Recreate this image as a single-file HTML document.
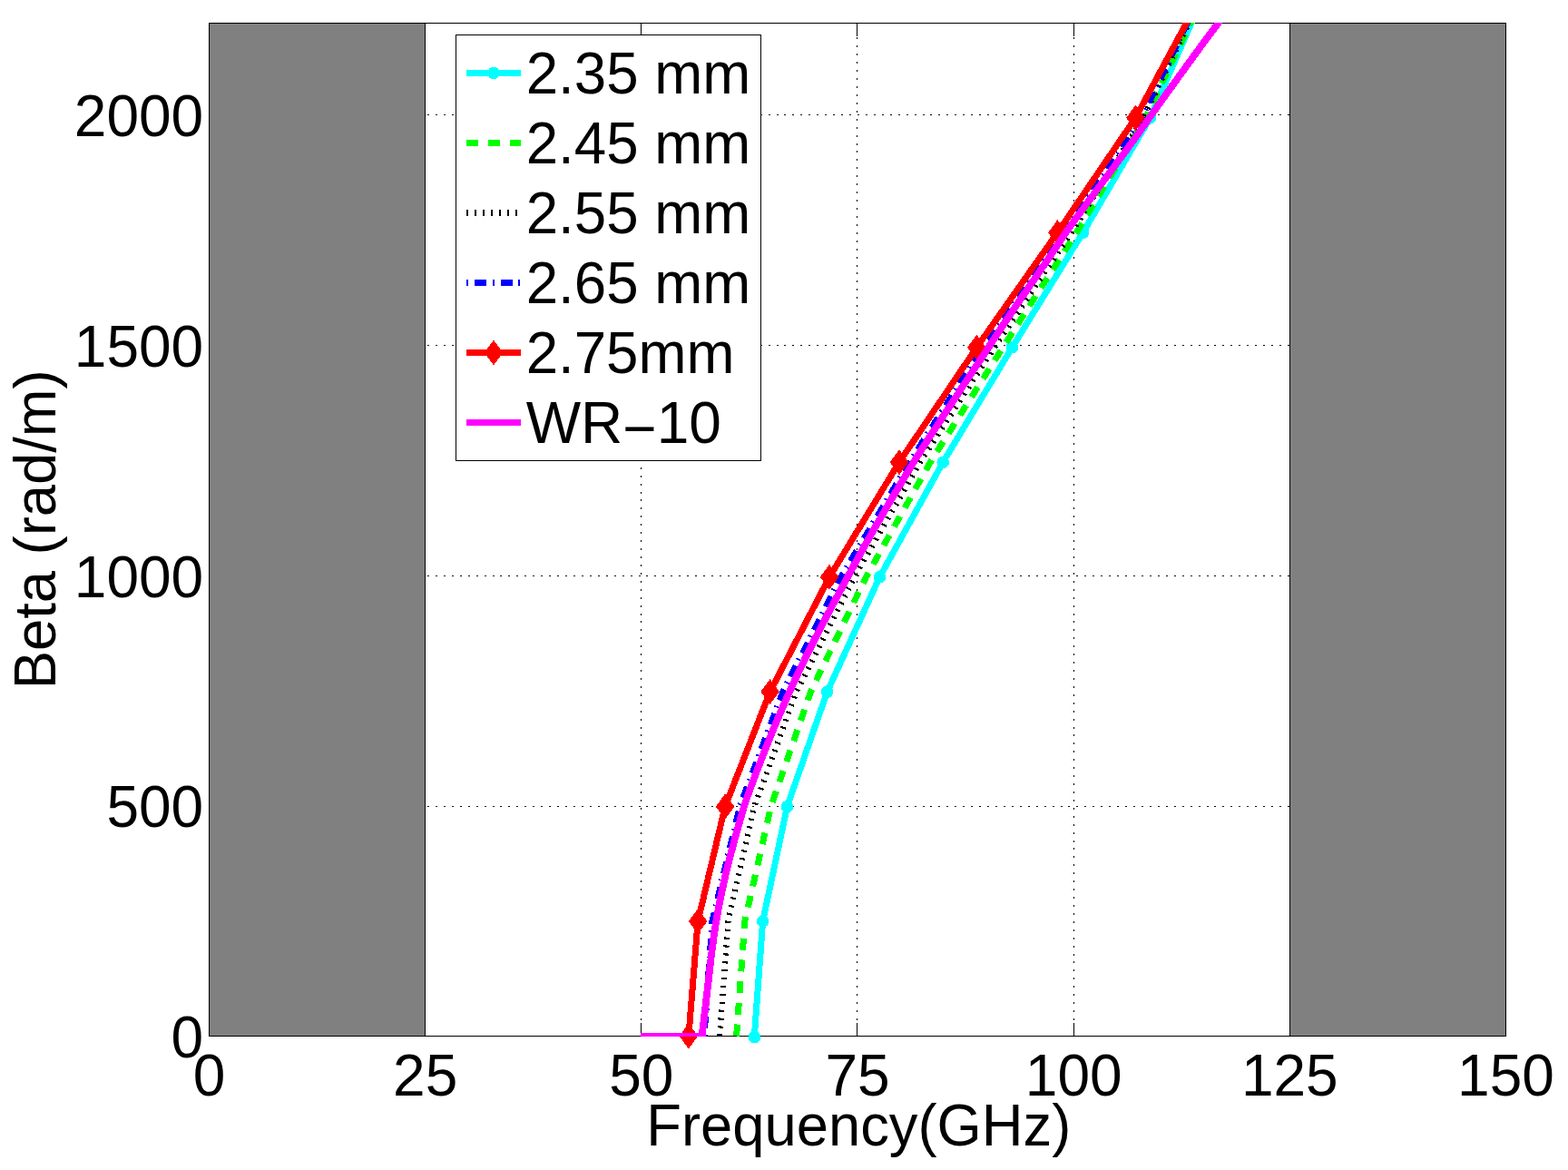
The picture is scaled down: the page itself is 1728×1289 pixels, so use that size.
<!DOCTYPE html>
<html lang="en">
<head>
<meta charset="utf-8">
<title>Beta (rad/m) vs Frequency(GHz)</title>
<style>
html,body{margin:0;padding:0;background:#fff;}
body{width:1728px;height:1289px;overflow:hidden;}
svg{display:block;}
text{font-family:"Liberation Sans",sans-serif;font-size:64px;fill:#000;}
</style>
</head>
<body>
<svg width="1728" height="1289" viewBox="0 0 1728 1289">
<rect x="0" y="0" width="1728" height="1289" fill="#fff"/>
<g shape-rendering="crispEdges">
<rect x="230.5" y="25.5" width="238.2" height="1116.0" fill="#808080" stroke="#000" stroke-width="1"/>
<rect x="1421.3" y="25.5" width="238.2" height="1116.0" fill="#808080" stroke="#000" stroke-width="1"/>
<line x1="706.5" y1="1124" x2="706.5" y2="25.5" stroke="#000" stroke-width="1" stroke-dasharray="2 6.93"/>
<line x1="944.5" y1="1124" x2="944.5" y2="25.5" stroke="#000" stroke-width="1" stroke-dasharray="2 6.93"/>
<line x1="1183.5" y1="1124" x2="1183.5" y2="25.5" stroke="#000" stroke-width="1" stroke-dasharray="2 6.93"/>
<line x1="471" y1="888.5" x2="1421.3" y2="888.5" stroke="#000" stroke-width="1" stroke-dasharray="2 6.943"/>
<line x1="471" y1="634.5" x2="1421.3" y2="634.5" stroke="#000" stroke-width="1" stroke-dasharray="2 6.943"/>
<line x1="471" y1="380.5" x2="1421.3" y2="380.5" stroke="#000" stroke-width="1" stroke-dasharray="2 6.943"/>
<line x1="471" y1="126.5" x2="1421.3" y2="126.5" stroke="#000" stroke-width="1" stroke-dasharray="2 6.943"/>
<line x1="706.5" y1="1141.5" x2="706.5" y2="1127.0" stroke="#000" stroke-width="1"/>
<line x1="706.5" y1="25.5" x2="706.5" y2="40.0" stroke="#000" stroke-width="1"/>
<line x1="944.5" y1="1141.5" x2="944.5" y2="1127.0" stroke="#000" stroke-width="1"/>
<line x1="944.5" y1="25.5" x2="944.5" y2="40.0" stroke="#000" stroke-width="1"/>
<line x1="1183.5" y1="1141.5" x2="1183.5" y2="1127.0" stroke="#000" stroke-width="1"/>
<line x1="1183.5" y1="25.5" x2="1183.5" y2="40.0" stroke="#000" stroke-width="1"/>
<rect x="230.5" y="25.5" width="1429.0" height="1116.0" fill="none" stroke="#000" stroke-width="1"/>
</g>
<g shape-rendering="crispEdges">
<svg x="230" y="25" width="1430" height="1117" viewBox="230 25 1430 1117" overflow="hidden"><path d="M831.40 1141.50 L840.60 1015.04 L867.50 888.58 L911.60 762.12 L969.50 635.66 L1039.20 509.20 L1115.40 382.74 L1193.50 256.28 L1267.50 129.82 L1332.70 -20.00" fill="none" stroke="#00ffff" stroke-width="7" stroke-linejoin="round"/></svg>
<circle cx="831.4" cy="1142.7" r="6.8" fill="#00ffff"/>
<circle cx="840.6" cy="1015.0" r="6.8" fill="#00ffff"/>
<circle cx="867.5" cy="888.6" r="6.8" fill="#00ffff"/>
<circle cx="911.6" cy="762.1" r="6.8" fill="#00ffff"/>
<circle cx="969.5" cy="635.7" r="6.8" fill="#00ffff"/>
<circle cx="1039.2" cy="509.2" r="6.8" fill="#00ffff"/>
<circle cx="1115.4" cy="382.7" r="6.8" fill="#00ffff"/>
<circle cx="1193.5" cy="256.3" r="6.8" fill="#00ffff"/>
<circle cx="1267.5" cy="129.8" r="6.8" fill="#00ffff"/>
<svg x="230" y="25" width="1430" height="1117" viewBox="230 25 1430 1117" overflow="hidden"><path d="M811.60 1141.50 L820.80 1015.04 L849.60 888.58 L893.40 762.12 L954.50 635.66 L1025.20 509.20 L1105.20 382.74 L1186.30 256.28 L1262.40 129.82 L1333.49 -20.00" fill="none" stroke="#00ff00" stroke-width="7" stroke-linejoin="round" stroke-dasharray="13 10.77"/></svg>
<svg x="230" y="25" width="1430" height="1117" viewBox="230 25 1430 1117" overflow="hidden"><path d="M793.10 1141.50 L802.50 1015.04 L831.30 888.58 L877.70 762.12 L941.70 635.66 L1014.00 509.20 L1095.90 382.74 L1180.80 256.28 L1259.90 129.82 L1332.14 -20.00" fill="none" stroke="#000000" stroke-width="6.2" stroke-linejoin="round" stroke-dasharray="2.2 6.72"/></svg>
<svg x="230" y="25" width="1430" height="1117" viewBox="230 25 1430 1117" overflow="hidden"><path d="M776.00 1141.50 L784.90 1015.04 L815.30 888.58 L862.90 762.12 L926.90 635.66 L1002.50 509.20 L1083.10 382.74 L1170.50 256.28 L1258.00 129.82 L1330.38 -20.00" fill="none" stroke="#0000ff" stroke-width="7" stroke-linejoin="round" stroke-dasharray="1.8 7.05 13 6.85"/></svg>
<svg x="230" y="25" width="1430" height="1117" viewBox="230 25 1430 1117" overflow="hidden"><path d="M758.90 1141.50 L769.10 1015.04 L799.10 888.58 L848.60 762.12 L914.10 635.66 L991.00 509.20 L1076.40 382.74 L1165.40 256.28 L1251.40 129.82 L1331.82 -20.00" fill="none" stroke="#ff0000" stroke-width="7" stroke-linejoin="round"/></svg>
<polygon points="748.6,1141.5 758.9,1127.5 769.2,1141.5 758.9,1155.5" fill="#ff0000"/>
<polygon points="758.8,1015.0 769.1,1001.0 779.4,1015.0 769.1,1029.0" fill="#ff0000"/>
<polygon points="788.8,888.6 799.1,874.6 809.4,888.6 799.1,902.6" fill="#ff0000"/>
<polygon points="838.3,762.1 848.6,748.1 858.9,762.1 848.6,776.1" fill="#ff0000"/>
<polygon points="903.8,635.7 914.1,621.7 924.4,635.7 914.1,649.7" fill="#ff0000"/>
<polygon points="980.7,509.2 991.0,495.2 1001.3,509.2 991.0,523.2" fill="#ff0000"/>
<polygon points="1066.1,382.7 1076.4,368.7 1086.7,382.7 1076.4,396.7" fill="#ff0000"/>
<polygon points="1155.1,256.3 1165.4,242.3 1175.7,256.3 1165.4,270.3" fill="#ff0000"/>
<polygon points="1241.1,129.8 1251.4,115.8 1261.7,129.8 1251.4,143.8" fill="#ff0000"/>
<svg x="230" y="25" width="1430" height="1117" viewBox="230 25 1430 1117" overflow="hidden"><path d="M706.00 1141.50 L773.60 1141.50 L774.30 1135.50 L775.01 1129.50 L775.71 1123.50 L776.42 1117.50 L777.13 1111.50 L777.84 1105.50 L778.55 1099.50 L779.24 1093.50 L779.92 1087.50 L780.60 1081.50 L781.27 1075.50 L781.96 1069.50 L782.65 1063.50 L783.35 1057.50 L784.08 1051.50 L784.83 1045.50 L785.60 1039.50 L786.41 1033.50 L787.26 1027.50 L788.21 1021.50 L789.21 1015.50 L790.26 1009.50 L791.35 1003.50 L792.47 997.50 L793.64 991.50 L794.85 985.50 L796.11 979.50 L797.42 973.50 L798.79 967.50 L800.22 961.50 L801.68 955.50 L803.18 949.50 L804.70 943.50 L806.25 937.50 L807.83 931.50 L809.45 925.50 L811.11 919.50 L812.79 913.50 L814.49 907.50 L816.19 901.50 L817.91 895.50 L819.72 889.50 L821.66 883.50 L823.72 877.50 L825.86 871.50 L828.06 865.50 L830.30 859.50 L832.57 853.50 L834.85 847.50 L837.15 841.50 L839.48 835.50 L841.82 829.50 L844.19 823.50 L846.59 817.50 L849.01 811.50 L851.46 805.50 L853.94 799.50 L856.45 793.50 L858.98 787.50 L861.56 781.50 L864.16 775.50 L866.80 769.50 L869.47 763.50 L872.19 757.50 L874.94 751.50 L877.74 745.50 L880.58 739.50 L883.46 733.50 L886.37 727.50 L889.31 721.50 L892.29 715.50 L895.30 709.50 L898.34 703.50 L901.41 697.50 L904.50 691.50 L907.61 685.50 L910.74 679.50 L913.90 673.50 L917.07 667.50 L920.26 661.50 L923.46 655.50 L926.67 649.50 L929.89 643.50 L933.12 637.50 L936.36 631.50 L939.62 625.50 L942.89 619.50 L946.19 613.50 L949.51 607.50 L952.85 601.50 L956.21 595.50 L959.60 589.50 L963.00 583.50 L966.42 577.50 L969.87 571.50 L973.34 565.50 L976.83 559.50 L980.33 553.50 L983.86 547.50 L987.42 541.50 L990.99 535.50 L994.58 529.50 L998.19 523.50 L1001.83 517.50 L1005.49 511.50 L1009.17 505.50 L1012.91 499.50 L1016.71 493.50 L1020.55 487.50 L1024.43 481.50 L1028.34 475.50 L1032.26 469.50 L1036.21 463.50 L1040.15 457.50 L1044.09 451.50 L1048.02 445.50 L1051.94 439.50 L1055.87 433.50 L1059.82 427.50 L1063.78 421.50 L1067.74 415.50 L1071.70 409.50 L1075.67 403.50 L1079.63 397.50 L1083.59 391.50 L1087.54 385.50 L1091.48 379.50 L1095.39 373.50 L1099.29 367.50 L1103.21 361.50 L1107.17 355.50 L1111.18 349.50 L1115.22 343.50 L1119.29 337.50 L1123.39 331.50 L1127.50 325.50 L1131.62 319.50 L1135.76 313.50 L1139.89 307.50 L1144.02 301.50 L1148.14 295.50 L1152.24 289.50 L1156.33 283.50 L1160.38 277.50 L1164.38 271.50 L1168.37 265.50 L1172.40 259.50 L1176.54 253.50 L1180.79 247.50 L1185.13 241.50 L1189.51 235.50 L1193.91 229.50 L1198.29 223.50 L1202.69 217.50 L1207.11 211.50 L1211.55 205.50 L1216.01 199.50 L1220.46 193.50 L1224.92 187.50 L1229.37 181.50 L1233.81 175.50 L1238.24 169.50 L1242.63 163.50 L1247.00 157.50 L1251.32 151.50 L1255.59 145.50 L1259.79 139.50 L1263.98 133.50 L1268.24 127.50 L1272.52 121.50 L1276.80 115.50 L1281.10 109.50 L1285.40 103.50 L1289.71 97.50 L1294.03 91.50 L1298.36 85.50 L1302.71 79.50 L1307.06 73.50 L1311.43 67.50 L1315.81 61.50 L1320.20 55.50 L1324.61 49.50 L1329.04 43.50 L1333.47 37.50 L1337.93 31.50 L1342.40 25.50 L1346.89 19.50 L1351.40 13.50 L1355.92 7.50 L1360.47 1.50 L1365.03 -4.50" fill="none" stroke="#ff00ff" stroke-width="7.8" stroke-linejoin="round"/></svg>
</g>
<g shape-rendering="crispEdges">
<rect x="502.5" y="38.5" width="336.0" height="469.0" fill="#fff" stroke="#000" stroke-width="1"/>
<line x1="514" y1="80.5" x2="574" y2="80.5" stroke="#00ffff" stroke-width="7"/>
<line x1="514" y1="157.5" x2="574" y2="157.5" stroke="#00ff00" stroke-width="7" stroke-dasharray="13 10.77"/>
<line x1="514" y1="234.5" x2="574" y2="234.5" stroke="#000000" stroke-width="7" stroke-dasharray="2.2 6.72"/>
<line x1="514" y1="311.5" x2="574" y2="311.5" stroke="#0000ff" stroke-width="7" stroke-dasharray="1.8 7.05 13 6.85"/>
<line x1="514" y1="388.5" x2="574" y2="388.5" stroke="#ff0000" stroke-width="7"/>
<line x1="514" y1="465.5" x2="574" y2="465.5" stroke="#ff00ff" stroke-width="7"/>
<circle cx="544.0" cy="80.5" r="6.8" fill="#00ffff"/>
<polygon points="533.7,388.5 544.0,374.5 554.3,388.5 544.0,402.5" fill="#ff0000"/>
</g>
<text x="579.7" y="102.9" textLength="247.5" lengthAdjust="spacingAndGlyphs">2.35 mm</text>
<text x="579.7" y="179.9" textLength="247.5" lengthAdjust="spacingAndGlyphs">2.45 mm</text>
<text x="579.7" y="256.9" textLength="247.5" lengthAdjust="spacingAndGlyphs">2.55 mm</text>
<text x="579.7" y="333.9" textLength="247.5" lengthAdjust="spacingAndGlyphs">2.65 mm</text>
<text x="579.7" y="410.9" textLength="229.8" lengthAdjust="spacingAndGlyphs">2.75mm</text>
<text x="579.7" y="487.9">WR<tspan dy="6.3">−</tspan><tspan dy="-6.3">10</tspan></text>
<text x="230.5" y="1206.8" text-anchor="middle">0</text>
<text x="468.7" y="1206.8" text-anchor="middle">25</text>
<text x="706.8" y="1206.8" text-anchor="middle">50</text>
<text x="945.0" y="1206.8" text-anchor="middle">75</text>
<text x="1183.2" y="1206.8" text-anchor="middle">100</text>
<text x="1421.3" y="1206.8" text-anchor="middle">125</text>
<text x="1659.5" y="1206.8" text-anchor="middle">150</text>
<text x="224.2" y="1164.9" text-anchor="end">0</text>
<text x="224.2" y="911.3" text-anchor="end">500</text>
<text x="224.2" y="657.6" text-anchor="end">1000</text>
<text x="224.2" y="404.0" text-anchor="end">1500</text>
<text x="224.2" y="150.4" text-anchor="end">2000</text>
<text x="946.3" y="1262.2" text-anchor="middle" textLength="468" lengthAdjust="spacingAndGlyphs">Frequency(GHz)</text>
<text transform="translate(60.6 583.3) rotate(-90)" text-anchor="middle" textLength="352" lengthAdjust="spacingAndGlyphs">Beta (rad/m)</text>
</svg>
</body>
</html>
